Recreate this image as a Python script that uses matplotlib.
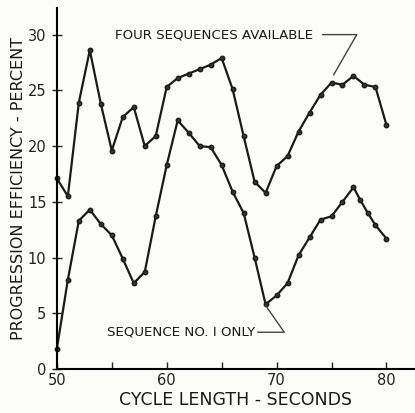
import numpy as np
import matplotlib
matplotlib.use("Agg")
import matplotlib.pyplot as plt

# data
x_four = [50, 51, 52, 53, 54, 55, 56, 57, 58, 59, 60, 61, 62, 63, 64, 65,
          66, 67, 68, 69, 70, 71, 72, 73, 74, 75, 76, 77, 78, 79, 80]
y_four = [17.1, 15.5, 23.9, 28.6, 23.8, 19.6, 22.6, 23.5, 20.0, 20.9, 25.3,
          26.1, 26.5, 26.9, 27.3, 27.9, 25.1, 20.9, 16.8, 15.8, 18.2, 19.1,
          21.3, 23.0, 24.6, 25.7, 25.5, 26.3, 25.5, 25.3, 21.9]

x_one = [50, 51, 52, 53, 54, 55, 56, 57, 58, 59, 60, 61, 62, 63, 64, 65,
         66, 67, 68, 69, 70, 71, 72, 73, 74, 75, 76, 77, 77.6, 78.3, 79, 80]
y_one = [1.8, 8.0, 13.3, 14.3, 13.0, 12.0, 9.9, 7.7, 8.7, 13.7, 18.3,
         22.3, 21.2, 20.0, 19.9, 18.3, 15.9, 14.0, 10.0, 5.8, 6.6, 7.7,
         10.2, 11.8, 13.4, 13.7, 15.0, 16.3, 15.2, 14.0, 12.9, 11.7]

xticks = [50, 60, 70, 80]
yticks = [0, 5, 10, 15, 20, 25, 30]

bg = "#fcfcfa"
fig = plt.figure(figsize=(4.15, 4.13), dpi=100, facecolor=bg)
ax = fig.add_axes([0.137, 0.1065, 0.863, 0.8745], facecolor=bg)

ax.plot(x_four, y_four, color="#1a1a1a", lw=1.6, marker="o", ms=3.2,
        mfc="#333333", mec="#1a1a1a", clip_on=False)
ax.plot(x_one, y_one, color="#1a1a1a", lw=1.6, marker="o", ms=3.2,
        mfc="#333333", mec="#1a1a1a", clip_on=False)

ax.set_xlim(50, 82.6)
ax.set_ylim(0, 32.4)
ax.spines["top"].set_visible(False)
ax.spines["right"].set_visible(False)
ax.spines["left"].set_linewidth(1.5)
ax.spines["bottom"].set_linewidth(1.5)

ax.set_xticks(xticks)
ax.set_xticks([55, 65, 75], minor=True)
ax.set_yticks(yticks)
ax.tick_params(axis="x", which="both", direction="in", length=5, width=1,
               labelsize=10.5, pad=3, colors="#222222")
ax.tick_params(axis="y", direction="inout", length=7, width=1,
               labelsize=10.5, pad=4, colors="#222222")

ax.set_xlabel("CYCLE LENGTH - SECONDS", fontsize=12.5, color="#1a1a1a",
              labelpad=2)
ax.set_ylabel("PROGRESSION EFFICIENCY - PERCENT", fontsize=11.5,
              color="#1a1a1a", labelpad=1)

# annotations with leader lines
ax.text(55.3, 30.0, "FOUR SEQUENCES AVAILABLE", fontsize=9.6,
        va="center", ha="left", color="#1a1a1a")
ax.plot([74.2, 77.3, 75.2], [30.0, 30.0, 26.4], color="#444444", lw=1)

ax.text(54.6, 3.3, "SEQUENCE NO. I ONLY", fontsize=9.6,
        va="center", ha="left", color="#1a1a1a")
ax.plot([68.3, 70.7, 69.0], [3.3, 3.3, 5.7], color="#444444", lw=1)

plt.savefig("out.png", dpi=100, facecolor=bg)
